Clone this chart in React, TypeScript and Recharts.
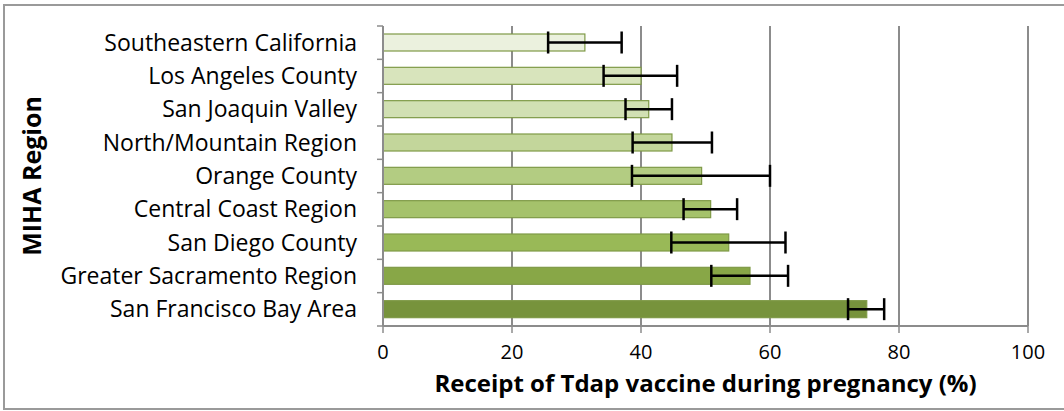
import React from 'react';
import { BarChart, Bar, XAxis, YAxis, CartesianGrid, ErrorBar } from 'recharts';

const regions = [
  'Southeastern California',
  'Los Angeles County',
  'San Joaquin Valley',
  'North/Mountain Region',
  'Orange County',
  'Central Coast Region',
  'San Diego County',
  'Greater Sacramento Region',
  'San Francisco Bay Area',
];
const percent = [31.3, 40.0, 41.2, 44.8, 49.4, 50.8, 53.6, 56.9, 75.0];
const lowerCI = [25.6, 34.2, 37.6, 38.7, 38.6, 46.6, 44.7, 50.9, 72.1];
const upperCI = [37.0, 45.6, 44.8, 51.0, 60.0, 54.9, 62.4, 62.8, 77.7];
const barColors = ['#ebf1de', '#d8e4bc', '#d1e0b3', '#c3d69b', '#b3cc82', '#a5c26b', '#99b957', '#88a747', '#77933c'];
const xTicks = [0, 20, 40, 60, 80, 100];

const FONT = '"Open Sans", sans-serif';
const GRID = '#8c8c8c';
const BAND = 300 / regions.length;

const chartData = regions.map((name, i) => ({
  name,
  pct: percent[i],
  err: [percent[i] - lowerCI[i], upperCI[i] - percent[i]],
}));

const RegionTick = (props: any) => {
  const { x, y, payload, index } = props;
  const axisX = 383;
  return (
    <g>
      <line x1={axisX - 6} x2={axisX} y1={y - BAND / 2} y2={y - BAND / 2} stroke={GRID} strokeWidth={1.5} />
      {index === regions.length - 1 && (
        <line x1={axisX - 6} x2={axisX} y1={y + BAND / 2} y2={y + BAND / 2} stroke={GRID} strokeWidth={1.5} />
      )}
      <text x={x} y={y} dy="0.35em" textAnchor="end" fontSize={23} fontFamily={FONT} fill="#000">
        {payload.value}
      </text>
    </g>
  );
};

// bar fill per region, geometry comes from recharts
const RegionBar = (props: any) => {
  const { x, y, width, height, index } = props;
  return (
    <rect
      x={x}
      y={y}
      width={width}
      height={height}
      fill={barColors[index]}
      stroke="#7f9a47"
      strokeWidth={1.2}
    />
  );
};

export default function App() {
  return (
    <div style={{ position: 'absolute', left: 0, top: 0, width: 1064, height: 411, overflow: 'hidden', background: '#fff' }}>
      <div style={{ position: 'absolute', left: 3, top: 4, width: 1100, height: 402, border: '2px solid #9a9a9a' }} />
      <div style={{ position: 'absolute', left: 0, top: 0 }}>
        <BarChart
          width={1064}
          height={411}
          data={chartData}
          layout="vertical"
          margin={{ top: 26, right: 36, bottom: 0, left: 0 }}
        >
          <CartesianGrid horizontal={false} stroke={GRID} strokeWidth={2} />
          <XAxis
            type="number"
            domain={[0, 100]}
            ticks={xTicks}
            height={85}
            tickSize={7}
            tickMargin={12}
            axisLine={{ stroke: GRID, strokeWidth: 2 }}
            tickLine={{ stroke: GRID, strokeWidth: 1.5 }}
            tick={{ fontSize: 20, fontFamily: FONT, fill: '#000' }}
            label={{
              value: 'Receipt of Tdap vaccine during pregnancy (%)',
              position: 'insideBottom',
              offset: 19,
              style: { fontSize: 24, fontWeight: 700, fontFamily: FONT, fill: '#000' },
            }}
          />
          <YAxis
            type="category"
            dataKey="name"
            width={383}
            tickSize={0}
            tickMargin={26}
            axisLine={{ stroke: GRID, strokeWidth: 2 }}
            tick={<RegionTick />}
            label={{
              value: 'MIHA Region',
              angle: -90,
              position: 'insideLeft',
              offset: 32,
              style: { fontSize: 25, fontWeight: 700, fontFamily: FONT, fill: '#000', textAnchor: 'middle' },
            }}
          />
          <Bar dataKey="pct" barSize={17} shape={<RegionBar />} isAnimationActive={false}>
            <ErrorBar dataKey="err" direction="x" width={11} stroke="#000" strokeWidth={2.5} isAnimationActive={false} />
          </Bar>
        </BarChart>
      </div>
    </div>
  );
}
